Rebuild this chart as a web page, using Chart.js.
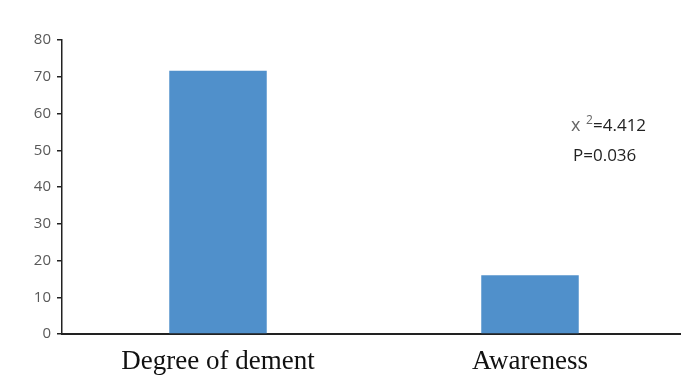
<!DOCTYPE html>
<html>
<head>
<meta charset="utf-8">
<script src="https://cdn.jsdelivr.net/npm/chart.js@4.4.1/dist/chart.umd.min.js"></script>
<style>
  html, body { margin: 0; padding: 0; background: #fff; overflow: hidden; }
  #wrap { width: 686px; height: 379px; }
</style>
</head>
<body>
<div id="wrap"><canvas id="demBar"></canvas></div>
<script>
const categories = ['Degree of dement', 'Awareness'];
const values = [71.6, 16];
const statLines = ['=4.412', 'P=0.036'];

// chi-square annotation, drawn after the bars
const statNote = {
    id: 'statNote',
    afterDraw(chart) {
        const c = chart.ctx;
        const area = chart.chartArea;
        const x = area.right - 115;
        const y = area.top + 91;
        c.save();
        c.textBaseline = 'alphabetic';
        c.fillStyle = '#666';
        c.font = '18px "Open Sans"';
        c.fillText('x', x, y);
        c.font = '12px "Open Sans"';
        c.fillText('2', x + 15, y - 7);
        c.fillStyle = '#222';
        c.font = '17px "Open Sans"';
        c.fillText(statLines[0], x + 22, y);
        c.fillText(statLines[1], x + 2, y + 30);
        c.restore();
    }
};

const ctx = document.getElementById('demBar');
new Chart(ctx, {
    type: 'bar',
    data: {
        labels: categories,
        datasets: [{
            data: values,
            backgroundColor: '#5090cb',
            categoryPercentage: 1,
            barPercentage: 0.3125,
        }]
    },
    options: {
        responsive: true,
        maintainAspectRatio: false,
        animation: false,
        layout: {
            padding: { top: 40, right: 0, bottom: 0, left: 0 }
        },
        plugins: {
            legend: { display: false },
            tooltip: { enabled: false }
        },
        scales: {
            x: {
                grid: { display: false },
                border: { display: true, color: '#222', width: 2 },
                ticks: {
                    color: '#111',
                    font: { family: '"Liberation Serif"', size: 27 },
                    padding: 4
                },
                afterFit: function(scale) { scale.height = 45; }
            },
            y: {
                min: 0,
                max: 80,
                ticks: {
                    stepSize: 10,
                    color: '#595959',
                    font: { family: '"Open Sans"', size: 15 },
                    padding: 6
                },
                grid: {
                    drawOnChartArea: false,
                    drawTicks: true,
                    tickLength: 5,
                    color: '#222',
                    lineWidth: 1.5
                },
                border: { display: true, color: '#222', width: 1.5 },
                afterFit: function(scale) { scale.width = 62; }
            }
        }
    },
    plugins: [statNote]
});
</script>
</body>
</html>
